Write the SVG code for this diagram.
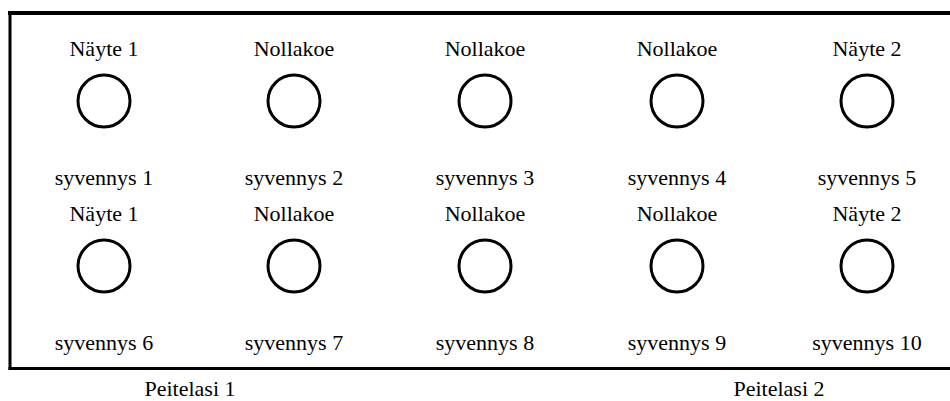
<svg xmlns="http://www.w3.org/2000/svg" width="950" height="401" viewBox="0 0 950 401">
  <style>
    .lbl { font-family: "Liberation Serif", "Times New Roman", serif; font-size: 22px; fill: #000; text-anchor: middle; }
    .well { fill: none; stroke: #000; stroke-width: 3; }
    .frame { stroke: #000; fill: none; }
  </style>
  <rect width="950" height="401" fill="#fff"/>
  <!-- slide frame -->
  <g id="frame">
    <line class="frame" x1="8" y1="13" x2="950" y2="13" stroke-width="4"/>
    <line class="frame" x1="10" y1="11" x2="10" y2="370" stroke-width="3"/>
    <line class="frame" x1="8.5" y1="368.5" x2="950" y2="368.5" stroke-width="3"/>
  </g>
  <!-- row 1 -->
  <g id="well1"><text class="lbl" x="104" y="56">Näyte 1</text><circle class="well" cx="104" cy="101" r="26"/><text class="lbl" x="104" y="185">syvennys 1</text></g>
  <g id="well2"><text class="lbl" x="294" y="56">Nollakoe</text><circle class="well" cx="294" cy="101" r="26"/><text class="lbl" x="294" y="185">syvennys 2</text></g>
  <g id="well3"><text class="lbl" x="485" y="56">Nollakoe</text><circle class="well" cx="485" cy="101" r="26"/><text class="lbl" x="485" y="185">syvennys 3</text></g>
  <g id="well4"><text class="lbl" x="677" y="56">Nollakoe</text><circle class="well" cx="677" cy="101" r="26"/><text class="lbl" x="677" y="185">syvennys 4</text></g>
  <g id="well5"><text class="lbl" x="867" y="56">Näyte 2</text><circle class="well" cx="867" cy="101" r="26"/><text class="lbl" x="867" y="185">syvennys 5</text></g>
  <!-- row 2 -->
  <g id="well6"><text class="lbl" x="104" y="221">Näyte 1</text><circle class="well" cx="104" cy="266" r="26"/><text class="lbl" x="104" y="350">syvennys 6</text></g>
  <g id="well7"><text class="lbl" x="294" y="221">Nollakoe</text><circle class="well" cx="294" cy="266" r="26"/><text class="lbl" x="294" y="350">syvennys 7</text></g>
  <g id="well8"><text class="lbl" x="485" y="221">Nollakoe</text><circle class="well" cx="485" cy="266" r="26"/><text class="lbl" x="485" y="350">syvennys 8</text></g>
  <g id="well9"><text class="lbl" x="677" y="221">Nollakoe</text><circle class="well" cx="677" cy="266" r="26"/><text class="lbl" x="677" y="350">syvennys 9</text></g>
  <g id="well10"><text class="lbl" x="867" y="221">Näyte 2</text><circle class="well" cx="867" cy="266" r="26"/><text class="lbl" x="867" y="350">syvennys 10</text></g>
  <!-- cover slip captions -->
  <g id="cover1"><text class="lbl" x="190" y="396">Peitelasi 1</text></g>
  <g id="cover2"><text class="lbl" x="779" y="396">Peitelasi 2</text></g>
  <g id="connectors"/>
</svg>
